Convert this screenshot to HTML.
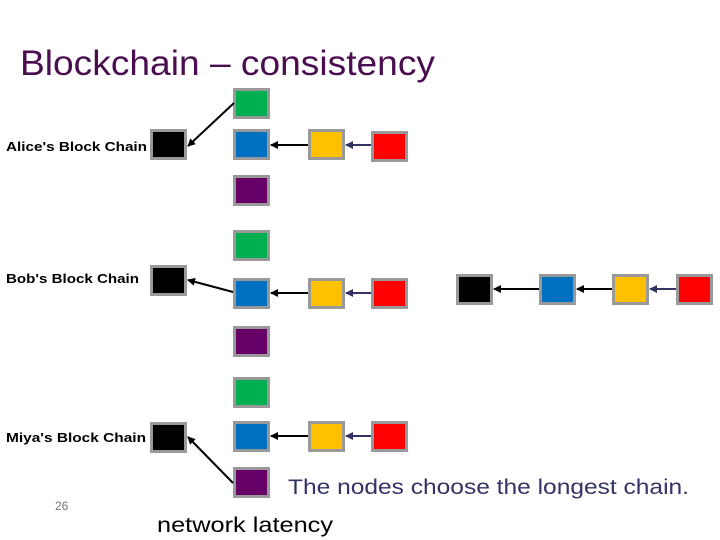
<!DOCTYPE html>
<html><head><meta charset="utf-8"><style>html,body{margin:0;padding:0;background:#fff}svg{display:block}</style></head>
<body>
<svg width="720" height="540" viewBox="0 0 720 540" xmlns="http://www.w3.org/2000/svg">
<defs>
<marker id="a" markerWidth="8" markerHeight="8" refX="7" refY="4" orient="auto" markerUnits="userSpaceOnUse"><path d="M0,0 L8,4 L0,8 z" fill="#000"/></marker>
<marker id="b" markerWidth="8" markerHeight="8" refX="7" refY="4" orient="auto" markerUnits="userSpaceOnUse"><path d="M0,0 L8,4 L0,8 z" fill="#333366"/></marker>
</defs>
<text x="20" y="75" font-family="Liberation Sans, sans-serif" font-size="35" fill="#4a0e50" textLength="415" lengthAdjust="spacingAndGlyphs">Blockchain – consistency</text>
<g stroke="#999" stroke-width="3">
<rect x="151.5" y="130.5" width="34" height="28" fill="#000"/>
<rect x="234.5" y="89.5" width="34" height="28" fill="#00b050"/>
<rect x="234.5" y="130.5" width="34" height="28" fill="#0070c0"/>
<rect x="234.5" y="176.5" width="34" height="28" fill="#660066"/>
<rect x="309.5" y="130.5" width="34" height="28" fill="#ffc000"/>
<rect x="372.5" y="132.5" width="34" height="28" fill="#ff0000"/>
<rect x="151.5" y="266.5" width="34" height="28" fill="#000"/>
<rect x="234.5" y="231.5" width="34" height="28" fill="#00b050"/>
<rect x="234.5" y="279.5" width="34" height="28" fill="#0070c0"/>
<rect x="234.5" y="327.5" width="34" height="28" fill="#660066"/>
<rect x="309.5" y="279.5" width="34" height="28" fill="#ffc000"/>
<rect x="372.5" y="279.5" width="34" height="28" fill="#ff0000"/>
<rect x="457.5" y="275.5" width="34" height="28" fill="#000"/>
<rect x="540.5" y="275.5" width="34" height="28" fill="#0070c0"/>
<rect x="613.5" y="275.5" width="34" height="28" fill="#ffc000"/>
<rect x="677.5" y="275.5" width="34" height="28" fill="#ff0000"/>
<rect x="151.5" y="423.5" width="34" height="28" fill="#000"/>
<rect x="234.5" y="378.5" width="34" height="28" fill="#00b050"/>
<rect x="234.5" y="422.5" width="34" height="28" fill="#0070c0"/>
<rect x="234.5" y="468.5" width="34" height="28" fill="#660066"/>
<rect x="309.5" y="422.5" width="34" height="28" fill="#ffc000"/>
<rect x="372.5" y="422.5" width="34" height="28" fill="#ff0000"/>
</g>
<g stroke="#000" stroke-width="2" fill="none">
<line x1="234" y1="103" x2="188" y2="146" marker-end="url(#a)"/>
<line x1="308" y1="145" x2="271" y2="145" marker-end="url(#a)"/>
<line x1="233" y1="292" x2="188" y2="280" marker-end="url(#a)"/>
<line x1="308" y1="293" x2="271" y2="293" marker-end="url(#a)"/>
<line x1="539" y1="289" x2="494" y2="289" marker-end="url(#a)"/>
<line x1="612" y1="289" x2="577" y2="289" marker-end="url(#a)"/>
<line x1="233" y1="483" x2="188" y2="437" marker-end="url(#a)"/>
<line x1="308" y1="436" x2="271" y2="436" marker-end="url(#a)"/>
</g>
<g stroke="#333366" stroke-width="2" fill="none">
<line x1="371" y1="145" x2="346" y2="145" marker-end="url(#b)"/>
<line x1="371" y1="293" x2="346" y2="293" marker-end="url(#b)"/>
<line x1="676" y1="289" x2="650" y2="289" marker-end="url(#b)"/>
<line x1="371" y1="436" x2="346" y2="436" marker-end="url(#b)"/>
</g>
<g font-family="Liberation Sans, sans-serif" font-weight="bold" font-size="13" fill="#000">
<text x="6" y="151" textLength="141" lengthAdjust="spacingAndGlyphs">Alice's Block Chain</text>
<text x="6" y="283" textLength="133" lengthAdjust="spacingAndGlyphs">Bob's Block Chain</text>
<text x="6" y="442" textLength="140" lengthAdjust="spacingAndGlyphs">Miya's Block Chain</text>
</g>
<text x="288" y="494" font-family="Liberation Sans, sans-serif" font-size="21" fill="#333366" textLength="401" lengthAdjust="spacingAndGlyphs">The nodes choose the longest chain.</text>
<text x="157" y="532" font-family="Liberation Sans, sans-serif" font-size="21" fill="#000" textLength="176" lengthAdjust="spacingAndGlyphs">network latency</text>
<text x="55" y="510" font-family="Liberation Sans, sans-serif" font-size="12" fill="#777">26</text>
</svg>
</body></html>
